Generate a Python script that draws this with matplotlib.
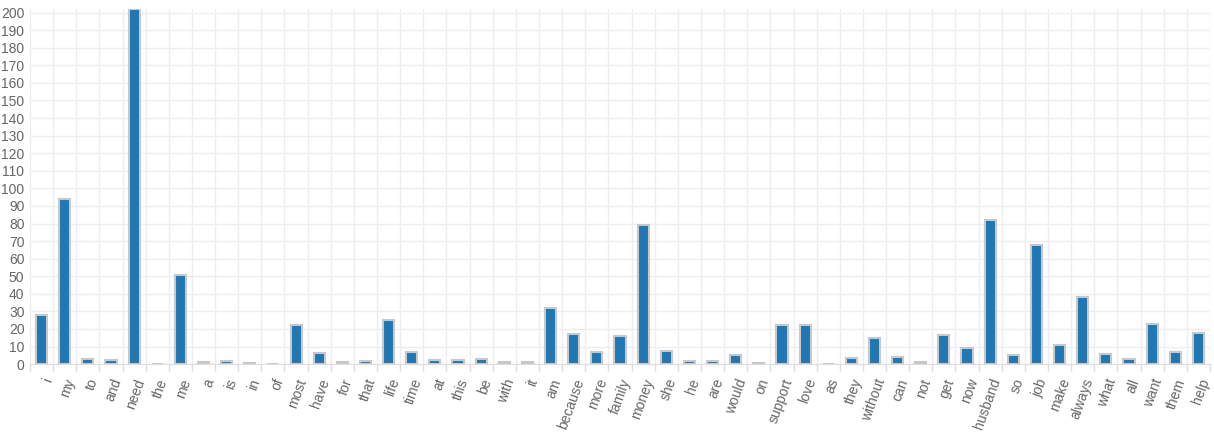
import numpy as np
import matplotlib.pyplot as plt
from matplotlib.ticker import FixedLocator, MultipleLocator

# word counts
words = ["i", "my", "to", "and", "need", "the", "me", "a", "is", "in", "of",
         "most", "have", "for", "that", "life", "time", "at", "this", "be",
         "with", "it", "am", "because", "more", "family", "money", "she", "he",
         "are", "would", "on", "support", "love", "as", "they", "without",
         "can", "not", "get", "now", "husband", "so", "job", "make", "always",
         "what", "all", "want", "them", "help"]
counts = [28, 94, 3, 2.2, 202, 0.3, 51, 1.3, 2, 0.6, 0.3,
          22, 6.5, 1.2, 2, 25, 7, 2.5, 2.5, 3,
          1.5, 1.5, 32, 17, 7, 16, 79, 7.5, 2,
          2, 5, 0.5, 22, 22, 0.3, 3.5, 15,
          4, 1.3, 16.5, 9, 82, 5, 68, 11, 38,
          6, 3, 23, 7, 18]

plt.rcParams["font.family"] = ["Liberation Sans", "DejaVu Sans"]

fig = plt.figure(figsize=(12.14, 4.33), dpi=100)
ax = fig.add_axes([0.0247, 0.159, 0.972, 0.82])

x = np.arange(len(words))
ax.bar(x, counts, width=0.48, color="#1f77b4", edgecolor="#c8c8c8",
       linewidth=1.5, zorder=3)

ax.set_xlim(-0.5, len(words) - 0.5)
ax.set_ylim(0, 202)

# labels at bar centres, grid and ticks at category boundaries
ax.xaxis.set_major_locator(FixedLocator(x))
ax.set_xticklabels(words, rotation=70, ha="right", va="top",
                   rotation_mode="anchor", fontsize=10, color="#666666")
ax.xaxis.set_minor_locator(FixedLocator(np.arange(len(words) + 1) - 0.5))
ax.tick_params(axis="x", which="major", length=0, pad=9)
ax.tick_params(axis="x", which="minor", length=5, color="#dddddd", width=1)

ax.yaxis.set_major_locator(MultipleLocator(10))
ax.tick_params(axis="y", length=0, pad=4, labelsize=10, labelcolor="#666666")

ax.grid(True, axis="y", which="major", color="#eeeeee", linewidth=1, zorder=0)
ax.grid(True, axis="x", which="minor", color="#eeeeee", linewidth=1, zorder=0)
ax.grid(False, axis="x", which="major")

for side in ["top", "right"]:
    ax.spines[side].set_visible(False)
ax.spines["left"].set_color("#eeeeee")
ax.spines["bottom"].set_color("#dddddd")

fig.savefig("out.png", dpi=100)
